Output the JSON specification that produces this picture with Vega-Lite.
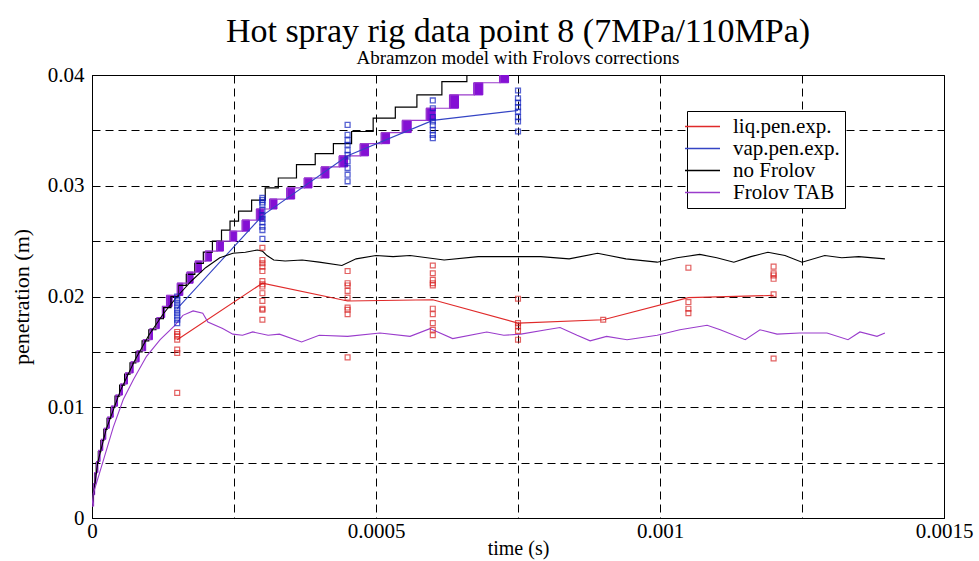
{
  "$schema": "https://vega.github.io/schema/vega-lite/v6.json",
  "width": 852,
  "height": 443,
  "autosize": {"type": "none"},
  "padding": {"left": 92, "top": 75, "right": 35, "bottom": 43},
  "background": "white",
  "title": {
    "text": "Hot spray rig data point 8 (7MPa/110MPa)",
    "subtitle": "Abramzon model with Frolovs corrections",
    "font": "Liberation Serif",
    "fontSize": 34,
    "fontWeight": "normal",
    "color": "black",
    "subtitleFont": "Liberation Serif",
    "subtitleFontSize": 19,
    "subtitleColor": "black",
    "subtitlePadding": 0,
    "offset": -4,
    "anchor": "middle"
  },
  "config": {
    "font": "Liberation Serif",
    "view": {"stroke": "black", "strokeWidth": 1},
    "axis": {
      "labelFont": "Liberation Serif",
      "labelFontSize": 21,
      "labelColor": "black",
      "titleFont": "Liberation Serif",
      "titleFontSize": 21,
      "titleFontWeight": "normal",
      "titleColor": "black",
      "grid": true,
      "gridColor": "black",
      "gridDash": [8, 5],
      "gridWidth": 1,
      "domainColor": "black",
      "ticks": false,
      "labelFlush": false,
      "labelOverlap": false
    },
    "legend": {
      "labelFont": "Liberation Serif",
      "labelFontSize": 21,
      "labelColor": "black"
    }
  },
  "datasets": {
    "steps": [
      {"t": 0, "v": 0.0010, "s": "no Frolov"},
      {"t": 0.0000008, "v": 0.0020, "s": "no Frolov"},
      {"t": 0.0000023, "v": 0.0030, "s": "no Frolov"},
      {"t": 0.0000045, "v": 0.0040, "s": "no Frolov"},
      {"t": 0.0000074, "v": 0.0050, "s": "no Frolov"},
      {"t": 0.0000111, "v": 0.0060, "s": "no Frolov"},
      {"t": 0.0000155, "v": 0.0070, "s": "no Frolov"},
      {"t": 0.0000207, "v": 0.0080, "s": "no Frolov"},
      {"t": 0.0000265, "v": 0.0090, "s": "no Frolov"},
      {"t": 0.0000332, "v": 0.0100, "s": "no Frolov"},
      {"t": 0.0000405, "v": 0.0110, "s": "no Frolov"},
      {"t": 0.0000486, "v": 0.0120, "s": "no Frolov"},
      {"t": 0.0000574, "v": 0.0130, "s": "no Frolov"},
      {"t": 0.0000669, "v": 0.0140, "s": "no Frolov"},
      {"t": 0.0000772, "v": 0.0150, "s": "no Frolov"},
      {"t": 0.0000882, "v": 0.0160, "s": "no Frolov"},
      {"t": 0.0001, "v": 0.0170, "s": "no Frolov"},
      {"t": 0.0001125, "v": 0.0180, "s": "no Frolov"},
      {"t": 0.0001257, "v": 0.0190, "s": "no Frolov"},
      {"t": 0.000139, "v": 0.0200, "s": "no Frolov"},
      {"t": 0.000152, "v": 0.0210, "s": "no Frolov"},
      {"t": 0.000166, "v": 0.0220, "s": "no Frolov"},
      {"t": 0.000181, "v": 0.0230, "s": "no Frolov"},
      {"t": 0.000196, "v": 0.0240, "s": "no Frolov"},
      {"t": 0.000212, "v": 0.0250, "s": "no Frolov"},
      {"t": 0.000228, "v": 0.0260, "s": "no Frolov"},
      {"t": 0.000243, "v": 0.0268, "s": "no Frolov"},
      {"t": 0.000258, "v": 0.0277, "s": "no Frolov"},
      {"t": 0.000281, "v": 0.0287, "s": "no Frolov"},
      {"t": 0.000305, "v": 0.0298, "s": "no Frolov"},
      {"t": 0.000328, "v": 0.0307, "s": "no Frolov"},
      {"t": 0.000360, "v": 0.0319, "s": "no Frolov"},
      {"t": 0.000393, "v": 0.0329, "s": "no Frolov"},
      {"t": 0.000425, "v": 0.0338, "s": "no Frolov"},
      {"t": 0.000457, "v": 0.0349, "s": "no Frolov"},
      {"t": 0.000495, "v": 0.0361, "s": "no Frolov"},
      {"t": 0.000534, "v": 0.0371, "s": "no Frolov"},
      {"t": 0.000572, "v": 0.0382, "s": "no Frolov"},
      {"t": 0.000616, "v": 0.0394, "s": "no Frolov"},
      {"t": 0.00066, "v": 0.0406, "s": "no Frolov"},
      {"t": 0.00075, "v": 0.0406, "s": "no Frolov"},
      {"t": 0, "v": 0.0011, "s": "Frolov TAB"},
      {"t": 0.0000027, "v": 0.0031, "s": "Frolov TAB"},
      {"t": 0.000005, "v": 0.0041, "s": "Frolov TAB"},
      {"t": 0.0000081, "v": 0.0051, "s": "Frolov TAB"},
      {"t": 0.0000119, "v": 0.0061, "s": "Frolov TAB"},
      {"t": 0.0000165, "v": 0.0071, "s": "Frolov TAB"},
      {"t": 0.0000218, "v": 0.0081, "s": "Frolov TAB"},
      {"t": 0.0000278, "v": 0.0091, "s": "Frolov TAB"},
      {"t": 0.0000346, "v": 0.0101, "s": "Frolov TAB"},
      {"t": 0.0000421, "v": 0.0111, "s": "Frolov TAB"},
      {"t": 0.0000503, "v": 0.0121, "s": "Frolov TAB"},
      {"t": 0.0000592, "v": 0.0131, "s": "Frolov TAB"},
      {"t": 0.0000689, "v": 0.0141, "s": "Frolov TAB"},
      {"t": 0.0000794, "v": 0.0151, "s": "Frolov TAB"},
      {"t": 0.0000905, "v": 0.0161, "s": "Frolov TAB"},
      {"t": 0.0001024, "v": 0.0171, "s": "Frolov TAB"},
      {"t": 0.0001145, "v": 0.0181, "s": "Frolov TAB"},
      {"t": 0.000124, "v": 0.0191, "s": "Frolov TAB"},
      {"t": 0.0001321, "v": 0.0201, "s": "Frolov TAB"},
      {"t": 0.0001509, "v": 0.0212, "s": "Frolov TAB"},
      {"t": 0.000168, "v": 0.0222, "s": "Frolov TAB"},
      {"t": 0.0001826, "v": 0.0232, "s": "Frolov TAB"},
      {"t": 0.0002003, "v": 0.0241, "s": "Frolov TAB"},
      {"t": 0.0002204, "v": 0.0250, "s": "Frolov TAB"},
      {"t": 0.0002438, "v": 0.0259, "s": "Frolov TAB"},
      {"t": 0.0002651, "v": 0.0269, "s": "Frolov TAB"},
      {"t": 0.0002903, "v": 0.0279, "s": "Frolov TAB"},
      {"t": 0.0003137, "v": 0.0288, "s": "Frolov TAB"},
      {"t": 0.0003438, "v": 0.0298, "s": "Frolov TAB"},
      {"t": 0.0003743, "v": 0.0307, "s": "Frolov TAB"},
      {"t": 0.0004042, "v": 0.0317, "s": "Frolov TAB"},
      {"t": 0.0004359, "v": 0.0327, "s": "Frolov TAB"},
      {"t": 0.0004729, "v": 0.0338, "s": "Frolov TAB"},
      {"t": 0.0005099, "v": 0.0348, "s": "Frolov TAB"},
      {"t": 0.000547, "v": 0.0359, "s": "Frolov TAB"},
      {"t": 0.0005893, "v": 0.0370, "s": "Frolov TAB"},
      {"t": 0.0006303, "v": 0.0382, "s": "Frolov TAB"},
      {"t": 0.0006731, "v": 0.0393, "s": "Frolov TAB"},
      {"t": 0.0007184, "v": 0.0405, "s": "Frolov TAB"},
      {"t": 0.00076, "v": 0.0405, "s": "Frolov TAB"}
    ],
    "blocks": [
      {"t0": 0.0000027, "t1": 0.0000047, "lo": 0.0021, "hi": 0.0031},
      {"t0": 0.000005, "t1": 0.000007, "lo": 0.0031, "hi": 0.0041},
      {"t0": 0.0000081, "t1": 0.0000104, "lo": 0.0041, "hi": 0.0051},
      {"t0": 0.0000119, "t1": 0.0000142, "lo": 0.0051, "hi": 0.0061},
      {"t0": 0.0000165, "t1": 0.0000190, "lo": 0.0061, "hi": 0.0071},
      {"t0": 0.0000218, "t1": 0.0000243, "lo": 0.0071, "hi": 0.0081},
      {"t0": 0.0000278, "t1": 0.0000305, "lo": 0.0081, "hi": 0.0091},
      {"t0": 0.0000346, "t1": 0.0000374, "lo": 0.0091, "hi": 0.0101},
      {"t0": 0.0000421, "t1": 0.000045, "lo": 0.0101, "hi": 0.0111},
      {"t0": 0.0000503, "t1": 0.0000535, "lo": 0.0111, "hi": 0.0121},
      {"t0": 0.0000592, "t1": 0.0000625, "lo": 0.0121, "hi": 0.0131},
      {"t0": 0.0000689, "t1": 0.0000725, "lo": 0.0131, "hi": 0.0141},
      {"t0": 0.0000794, "t1": 0.000083, "lo": 0.0141, "hi": 0.0151},
      {"t0": 0.0000905, "t1": 0.0000945, "lo": 0.0151, "hi": 0.0161},
      {"t0": 0.0001024, "t1": 0.0001064, "lo": 0.0161, "hi": 0.0171},
      {"t0": 0.0001145, "t1": 0.0001185, "lo": 0.0171, "hi": 0.0181},
      {"t0": 0.000124, "t1": 0.000128, "lo": 0.0181, "hi": 0.0191},
      {"t0": 0.0001311, "t1": 0.0001411, "lo": 0.0191, "hi": 0.0201},
      {"t0": 0.0001499, "t1": 0.0001599, "lo": 0.0201, "hi": 0.0212},
      {"t0": 0.000167, "t1": 0.000178, "lo": 0.0212, "hi": 0.0222},
      {"t0": 0.0001816, "t1": 0.0001926, "lo": 0.0222, "hi": 0.0232},
      {"t0": 0.0001993, "t1": 0.0002103, "lo": 0.0232, "hi": 0.0241},
      {"t0": 0.0002194, "t1": 0.0002314, "lo": 0.0241, "hi": 0.0250},
      {"t0": 0.0002428, "t1": 0.0002548, "lo": 0.0250, "hi": 0.0259},
      {"t0": 0.0002641, "t1": 0.0002771, "lo": 0.0259, "hi": 0.0269},
      {"t0": 0.0002893, "t1": 0.0003023, "lo": 0.0269, "hi": 0.0279},
      {"t0": 0.0003127, "t1": 0.0003257, "lo": 0.0279, "hi": 0.0288},
      {"t0": 0.0003428, "t1": 0.0003568, "lo": 0.0288, "hi": 0.0298},
      {"t0": 0.0003733, "t1": 0.0003873, "lo": 0.0298, "hi": 0.0307},
      {"t0": 0.0004032, "t1": 0.0004172, "lo": 0.0307, "hi": 0.0317},
      {"t0": 0.0004349, "t1": 0.0004499, "lo": 0.0317, "hi": 0.0327},
      {"t0": 0.0004719, "t1": 0.0004869, "lo": 0.0327, "hi": 0.0338},
      {"t0": 0.0005089, "t1": 0.0005239, "lo": 0.0338, "hi": 0.0348},
      {"t0": 0.000546, "t1": 0.000562, "lo": 0.0348, "hi": 0.0359},
      {"t0": 0.0005883, "t1": 0.0006043, "lo": 0.0359, "hi": 0.0370},
      {"t0": 0.0006293, "t1": 0.0006453, "lo": 0.0370, "hi": 0.0382},
      {"t0": 0.0006721, "t1": 0.0006881, "lo": 0.0382, "hi": 0.0393},
      {"t0": 0.0007174, "t1": 0.0007334, "lo": 0.0393, "hi": 0.0405}
    ],
    "lines": [
      {"t": 0.00015, "v": 0.0161, "s": "liq.pen.exp.", "id": "liq"},
      {"t": 0.0003, "v": 0.0212, "s": "liq.pen.exp.", "id": "liq"},
      {"t": 0.00045, "v": 0.0196, "s": "liq.pen.exp.", "id": "liq"},
      {"t": 0.0006, "v": 0.0197, "s": "liq.pen.exp.", "id": "liq"},
      {"t": 0.00075, "v": 0.0176, "s": "liq.pen.exp.", "id": "liq"},
      {"t": 0.0009, "v": 0.0179, "s": "liq.pen.exp.", "id": "liq"},
      {"t": 0.00105, "v": 0.0199, "s": "liq.pen.exp.", "id": "liq"},
      {"t": 0.0012, "v": 0.0201, "s": "liq.pen.exp.", "id": "liq"},
      {"t": 0.00015, "v": 0.0189, "s": "vap.pen.exp.", "id": "vap"},
      {"t": 0.0003, "v": 0.0273, "s": "vap.pen.exp.", "id": "vap"},
      {"t": 0.00045, "v": 0.0327, "s": "vap.pen.exp.", "id": "vap"},
      {"t": 0.0006, "v": 0.0359, "s": "vap.pen.exp.", "id": "vap"},
      {"t": 0.00075, "v": 0.0368, "s": "vap.pen.exp.", "id": "vap"},
      {"t": 0, "v": 0.0010, "s": "no Frolov", "id": "nfl"},
      {"t": 0.00001, "v": 0.0050, "s": "no Frolov", "id": "nfl"},
      {"t": 0.000025, "v": 0.0080, "s": "no Frolov", "id": "nfl"},
      {"t": 0.00005, "v": 0.0115, "s": "no Frolov", "id": "nfl"},
      {"t": 0.000075, "v": 0.0142, "s": "no Frolov", "id": "nfl"},
      {"t": 0.0001, "v": 0.0165, "s": "no Frolov", "id": "nfl"},
      {"t": 0.000125, "v": 0.0184, "s": "no Frolov", "id": "nfl"},
      {"t": 0.00015, "v": 0.0200, "s": "no Frolov", "id": "nfl"},
      {"t": 0.000175, "v": 0.0214, "s": "no Frolov", "id": "nfl"},
      {"t": 0.0002, "v": 0.0226, "s": "no Frolov", "id": "nfl"},
      {"t": 0.000225, "v": 0.0235, "s": "no Frolov", "id": "nfl"},
      {"t": 0.000248, "v": 0.0239, "s": "no Frolov", "id": "nfl"},
      {"t": 0.00027, "v": 0.0240, "s": "no Frolov", "id": "nfl"},
      {"t": 0.000291, "v": 0.0242, "s": "no Frolov", "id": "nfl"},
      {"t": 0.0003, "v": 0.0241, "s": "no Frolov", "id": "nfl"},
      {"t": 0.000308, "v": 0.0237, "s": "no Frolov", "id": "nfl"},
      {"t": 0.00032, "v": 0.0233, "s": "no Frolov", "id": "nfl"},
      {"t": 0.00034, "v": 0.0232, "s": "no Frolov", "id": "nfl"},
      {"t": 0.00037, "v": 0.0233, "s": "no Frolov", "id": "nfl"},
      {"t": 0.0004, "v": 0.0231, "s": "no Frolov", "id": "nfl"},
      {"t": 0.00044, "v": 0.0228, "s": "no Frolov", "id": "nfl"},
      {"t": 0.000465, "v": 0.0234, "s": "no Frolov", "id": "nfl"},
      {"t": 0.0005, "v": 0.0237, "s": "no Frolov", "id": "nfl"},
      {"t": 0.00053, "v": 0.0236, "s": "no Frolov", "id": "nfl"},
      {"t": 0.00056, "v": 0.0237, "s": "no Frolov", "id": "nfl"},
      {"t": 0.00062, "v": 0.0233, "s": "no Frolov", "id": "nfl"},
      {"t": 0.00068, "v": 0.0236, "s": "no Frolov", "id": "nfl"},
      {"t": 0.00074, "v": 0.0236, "s": "no Frolov", "id": "nfl"},
      {"t": 0.00079, "v": 0.0236, "s": "no Frolov", "id": "nfl"},
      {"t": 0.00084, "v": 0.0234, "s": "no Frolov", "id": "nfl"},
      {"t": 0.00089, "v": 0.0239, "s": "no Frolov", "id": "nfl"},
      {"t": 0.00091, "v": 0.0237, "s": "no Frolov", "id": "nfl"},
      {"t": 0.00094, "v": 0.0234, "s": "no Frolov", "id": "nfl"},
      {"t": 0.000995, "v": 0.0231, "s": "no Frolov", "id": "nfl"},
      {"t": 0.00103, "v": 0.0235, "s": "no Frolov", "id": "nfl"},
      {"t": 0.00107, "v": 0.0238, "s": "no Frolov", "id": "nfl"},
      {"t": 0.0011, "v": 0.0235, "s": "no Frolov", "id": "nfl"},
      {"t": 0.00113, "v": 0.0231, "s": "no Frolov", "id": "nfl"},
      {"t": 0.00116, "v": 0.0236, "s": "no Frolov", "id": "nfl"},
      {"t": 0.00119, "v": 0.0240, "s": "no Frolov", "id": "nfl"},
      {"t": 0.00122, "v": 0.0237, "s": "no Frolov", "id": "nfl"},
      {"t": 0.00125, "v": 0.0231, "s": "no Frolov", "id": "nfl"},
      {"t": 0.00129, "v": 0.0237, "s": "no Frolov", "id": "nfl"},
      {"t": 0.00132, "v": 0.0235, "s": "no Frolov", "id": "nfl"},
      {"t": 0.00135, "v": 0.0236, "s": "no Frolov", "id": "nfl"},
      {"t": 0.001396, "v": 0.0234, "s": "no Frolov", "id": "nfl"},
      {"t": 0, "v": 0.0010, "s": "Frolov TAB", "id": "ftl"},
      {"t": 0.0000023, "v": 0.0022, "s": "Frolov TAB", "id": "ftl"},
      {"t": 0.00002, "v": 0.0052, "s": "Frolov TAB", "id": "ftl"},
      {"t": 0.0000375, "v": 0.0082, "s": "Frolov TAB", "id": "ftl"},
      {"t": 0.000055, "v": 0.0107, "s": "Frolov TAB", "id": "ftl"},
      {"t": 0.000073, "v": 0.0125, "s": "Frolov TAB", "id": "ftl"},
      {"t": 0.000096, "v": 0.0146, "s": "Frolov TAB", "id": "ftl"},
      {"t": 0.00012, "v": 0.0161, "s": "Frolov TAB", "id": "ftl"},
      {"t": 0.000146, "v": 0.0174, "s": "Frolov TAB", "id": "ftl"},
      {"t": 0.00016, "v": 0.0183, "s": "Frolov TAB", "id": "ftl"},
      {"t": 0.000178, "v": 0.0187, "s": "Frolov TAB", "id": "ftl"},
      {"t": 0.000195, "v": 0.0185, "s": "Frolov TAB", "id": "ftl"},
      {"t": 0.000204, "v": 0.0177, "s": "Frolov TAB", "id": "ftl"},
      {"t": 0.00023, "v": 0.0171, "s": "Frolov TAB", "id": "ftl"},
      {"t": 0.000248, "v": 0.0166, "s": "Frolov TAB", "id": "ftl"},
      {"t": 0.000265, "v": 0.0165, "s": "Frolov TAB", "id": "ftl"},
      {"t": 0.000283, "v": 0.0168, "s": "Frolov TAB", "id": "ftl"},
      {"t": 0.00031, "v": 0.0165, "s": "Frolov TAB", "id": "ftl"},
      {"t": 0.00033, "v": 0.0166, "s": "Frolov TAB", "id": "ftl"},
      {"t": 0.000369, "v": 0.0159, "s": "Frolov TAB", "id": "ftl"},
      {"t": 0.0004, "v": 0.0165, "s": "Frolov TAB", "id": "ftl"},
      {"t": 0.00045, "v": 0.0164, "s": "Frolov TAB", "id": "ftl"},
      {"t": 0.000507, "v": 0.0167, "s": "Frolov TAB", "id": "ftl"},
      {"t": 0.00056, "v": 0.0164, "s": "Frolov TAB", "id": "ftl"},
      {"t": 0.000595, "v": 0.0171, "s": "Frolov TAB", "id": "ftl"},
      {"t": 0.000635, "v": 0.0162, "s": "Frolov TAB", "id": "ftl"},
      {"t": 0.000695, "v": 0.0168, "s": "Frolov TAB", "id": "ftl"},
      {"t": 0.000725, "v": 0.0165, "s": "Frolov TAB", "id": "ftl"},
      {"t": 0.000755, "v": 0.0166, "s": "Frolov TAB", "id": "ftl"},
      {"t": 0.0008, "v": 0.0170, "s": "Frolov TAB", "id": "ftl"},
      {"t": 0.000824, "v": 0.0172, "s": "Frolov TAB", "id": "ftl"},
      {"t": 0.000854, "v": 0.0165, "s": "Frolov TAB", "id": "ftl"},
      {"t": 0.000877, "v": 0.0160, "s": "Frolov TAB", "id": "ftl"},
      {"t": 0.000906, "v": 0.0164, "s": "Frolov TAB", "id": "ftl"},
      {"t": 0.000942, "v": 0.0161, "s": "Frolov TAB", "id": "ftl"},
      {"t": 0.000995, "v": 0.0165, "s": "Frolov TAB", "id": "ftl"},
      {"t": 0.001035, "v": 0.0170, "s": "Frolov TAB", "id": "ftl"},
      {"t": 0.001083, "v": 0.0174, "s": "Frolov TAB", "id": "ftl"},
      {"t": 0.001106, "v": 0.0170, "s": "Frolov TAB", "id": "ftl"},
      {"t": 0.00115, "v": 0.0161, "s": "Frolov TAB", "id": "ftl"},
      {"t": 0.001176, "v": 0.0170, "s": "Frolov TAB", "id": "ftl"},
      {"t": 0.001206, "v": 0.0166, "s": "Frolov TAB", "id": "ftl"},
      {"t": 0.001246, "v": 0.0167, "s": "Frolov TAB", "id": "ftl"},
      {"t": 0.001294, "v": 0.0167, "s": "Frolov TAB", "id": "ftl"},
      {"t": 0.001331, "v": 0.0161, "s": "Frolov TAB", "id": "ftl"},
      {"t": 0.001352, "v": 0.0168, "s": "Frolov TAB", "id": "ftl"},
      {"t": 0.001382, "v": 0.0164, "s": "Frolov TAB", "id": "ftl"},
      {"t": 0.001396, "v": 0.0167, "s": "Frolov TAB", "id": "ftl"}
    ],
    "liqpts": [
      {"t": 0.00015, "v": 0.0168}, {"t": 0.00015, "v": 0.0166}, {"t": 0.00015, "v": 0.0164}, {"t": 0.00015, "v": 0.0161}, {"t": 0.00015, "v": 0.0152}, {"t": 0.00015, "v": 0.0149}, {"t": 0.00015, "v": 0.0113},
      {"t": 0.0003, "v": 0.0244}, {"t": 0.0003, "v": 0.0233}, {"t": 0.0003, "v": 0.0230}, {"t": 0.0003, "v": 0.0227}, {"t": 0.0003, "v": 0.0223}, {"t": 0.0003, "v": 0.0214}, {"t": 0.0003, "v": 0.0211}, {"t": 0.0003, "v": 0.0209}, {"t": 0.0003, "v": 0.0203}, {"t": 0.0003, "v": 0.0196}, {"t": 0.0003, "v": 0.0189}, {"t": 0.0003, "v": 0.0188}, {"t": 0.0003, "v": 0.0179},
      {"t": 0.00045, "v": 0.0223}, {"t": 0.00045, "v": 0.0212}, {"t": 0.00045, "v": 0.0210}, {"t": 0.00045, "v": 0.0205}, {"t": 0.00045, "v": 0.0199}, {"t": 0.00045, "v": 0.0190}, {"t": 0.00045, "v": 0.0188}, {"t": 0.00045, "v": 0.0184}, {"t": 0.00045, "v": 0.0145},
      {"t": 0.0006, "v": 0.0228}, {"t": 0.0006, "v": 0.0221}, {"t": 0.0006, "v": 0.0215}, {"t": 0.0006, "v": 0.0212}, {"t": 0.0006, "v": 0.0210}, {"t": 0.0006, "v": 0.0189}, {"t": 0.0006, "v": 0.0184}, {"t": 0.0006, "v": 0.0176}, {"t": 0.0006, "v": 0.0170}, {"t": 0.0006, "v": 0.0165},
      {"t": 0.00075, "v": 0.0198}, {"t": 0.00075, "v": 0.0176}, {"t": 0.00075, "v": 0.0173}, {"t": 0.00075, "v": 0.0169}, {"t": 0.00075, "v": 0.0161},
      {"t": 0.0009, "v": 0.0179},
      {"t": 0.00105, "v": 0.0226}, {"t": 0.00105, "v": 0.0195}, {"t": 0.00105, "v": 0.0189}, {"t": 0.00105, "v": 0.0185},
      {"t": 0.0012, "v": 0.0227}, {"t": 0.0012, "v": 0.0221}, {"t": 0.0012, "v": 0.0219}, {"t": 0.0012, "v": 0.0216}, {"t": 0.0012, "v": 0.0202}, {"t": 0.0012, "v": 0.0144}
    ],
    "vappts": [
      {"t": 0.00015, "v": 0.0200}, {"t": 0.00015, "v": 0.0197}, {"t": 0.00015, "v": 0.0194}, {"t": 0.00015, "v": 0.0191}, {"t": 0.00015, "v": 0.0188}, {"t": 0.00015, "v": 0.0185}, {"t": 0.00015, "v": 0.0182}, {"t": 0.00015, "v": 0.0179}, {"t": 0.00015, "v": 0.0176},
      {"t": 0.0003, "v": 0.0289}, {"t": 0.0003, "v": 0.0287}, {"t": 0.0003, "v": 0.0285}, {"t": 0.0003, "v": 0.0283}, {"t": 0.0003, "v": 0.0278}, {"t": 0.0003, "v": 0.0273}, {"t": 0.0003, "v": 0.0270}, {"t": 0.0003, "v": 0.0267}, {"t": 0.0003, "v": 0.0263}, {"t": 0.0003, "v": 0.0260}, {"t": 0.0003, "v": 0.0252},
      {"t": 0.00045, "v": 0.0355}, {"t": 0.00045, "v": 0.0346}, {"t": 0.00045, "v": 0.0341}, {"t": 0.00045, "v": 0.0337}, {"t": 0.00045, "v": 0.0332}, {"t": 0.00045, "v": 0.0328}, {"t": 0.00045, "v": 0.0322}, {"t": 0.00045, "v": 0.0316}, {"t": 0.00045, "v": 0.0310}, {"t": 0.00045, "v": 0.0304},
      {"t": 0.0006, "v": 0.0377}, {"t": 0.0006, "v": 0.0370}, {"t": 0.0006, "v": 0.0362}, {"t": 0.0006, "v": 0.0358}, {"t": 0.0006, "v": 0.0355}, {"t": 0.0006, "v": 0.0350}, {"t": 0.0006, "v": 0.0346}, {"t": 0.0006, "v": 0.0343},
      {"t": 0.00075, "v": 0.0386}, {"t": 0.00075, "v": 0.0379}, {"t": 0.00075, "v": 0.0375}, {"t": 0.00075, "v": 0.0371}, {"t": 0.00075, "v": 0.0367}, {"t": 0.00075, "v": 0.0362}, {"t": 0.00075, "v": 0.0358}, {"t": 0.00075, "v": 0.0349}
    ]
  },
  "layer": [
    {
      "data": {"name": "blocks"},
      "mark": {"type": "rect", "color": "#8410d4", "stroke": "#8410d4", "strokeWidth": 1, "clip": true},
      "encoding": {
        "x": {
          "field": "t0", "type": "quantitative",
          "scale": {"domain": [0, 0.0015], "nice": false, "zero": false},
          "title": "time (s)",
          "axis": {
            "values": [0, 0.00025, 0.0005, 0.00075, 0.001, 0.00125, 0.0015],
            "format": "~g",
            "labelExpr": "indexof(['0','0.0005','0.001','0.0015'], datum.label) >= 0 ? datum.label : ''",
            "labelFont": "Liberation Serif",
            "labelFontSize": 21,
            "labelPadding": 2,
            "titleFontSize": 20,
            "titlePadding": -3
          }
        },
        "x2": {"field": "t1"},
        "y": {
          "field": "lo", "type": "quantitative",
          "scale": {"domain": [0, 0.04], "nice": false, "zero": false},
          "title": "penetration (m)",
          "axis": {
            "values": [0, 0.005, 0.01, 0.015, 0.02, 0.025, 0.03, 0.035, 0.04],
            "format": "~g",
            "labelExpr": "indexof(['0','0.01','0.02','0.03','0.04'], datum.label) >= 0 ? datum.label : ''",
            "labelFont": "Liberation Serif",
            "labelFontSize": 21,
            "labelPadding": 8,
            "titleFontSize": 22,
            "titlePadding": 14
          }
        },
        "y2": {"field": "hi"}
      }
    },
    {
      "data": {"name": "steps"},
      "mark": {"type": "line", "interpolate": "step-after", "strokeWidth": 1.2, "clip": true},
      "encoding": {
        "x": {"field": "t", "type": "quantitative", "title": "time (s)"},
        "y": {"field": "v", "type": "quantitative", "title": "penetration (m)"},
        "color": {
          "field": "s", "type": "nominal",
          "scale": {
            "domain": ["liq.pen.exp.", "vap.pen.exp.", "no Frolov", "Frolov TAB"],
            "range": ["#e02a2a", "#3444c4", "#000000", "#9a3ccc"]
          },
          "legend": {
            "title": null,
            "orient": "none",
            "legendX": 595,
            "legendY": 36,
            "symbolType": "M-3.5,0H3.5",
            "symbolSize": 100,
            "symbolStrokeWidth": 1.3,
            "strokeColor": "black",
            "fillColor": "white",
            "padding": 5,
            "rowPadding": 0,
            "labelOffset": 20,
            "labelFont": "Liberation Serif",
            "labelFontSize": 21
          }
        }
      }
    },
    {
      "data": {"name": "lines"},
      "mark": {"type": "line", "strokeWidth": 1.1, "clip": true},
      "encoding": {
        "x": {"field": "t", "type": "quantitative", "title": "time (s)"},
        "y": {"field": "v", "type": "quantitative", "title": "penetration (m)"},
        "color": {"field": "s", "type": "nominal"},
        "detail": {"field": "id"}
      }
    },
    {
      "data": {"name": "liqpts"},
      "mark": {"type": "point", "shape": "square", "filled": false, "color": "#d81f1f", "size": 24, "strokeWidth": 1.2, "clip": true},
      "encoding": {
        "x": {"field": "t", "type": "quantitative", "title": "time (s)"},
        "y": {"field": "v", "type": "quantitative", "title": "penetration (m)"}
      }
    },
    {
      "data": {"name": "vappts"},
      "mark": {"type": "point", "shape": "square", "filled": false, "color": "#1020c0", "size": 24, "strokeWidth": 1.3, "clip": true},
      "encoding": {
        "x": {"field": "t", "type": "quantitative", "title": "time (s)"},
        "y": {"field": "v", "type": "quantitative", "title": "penetration (m)"}
      }
    }
  ]
}
